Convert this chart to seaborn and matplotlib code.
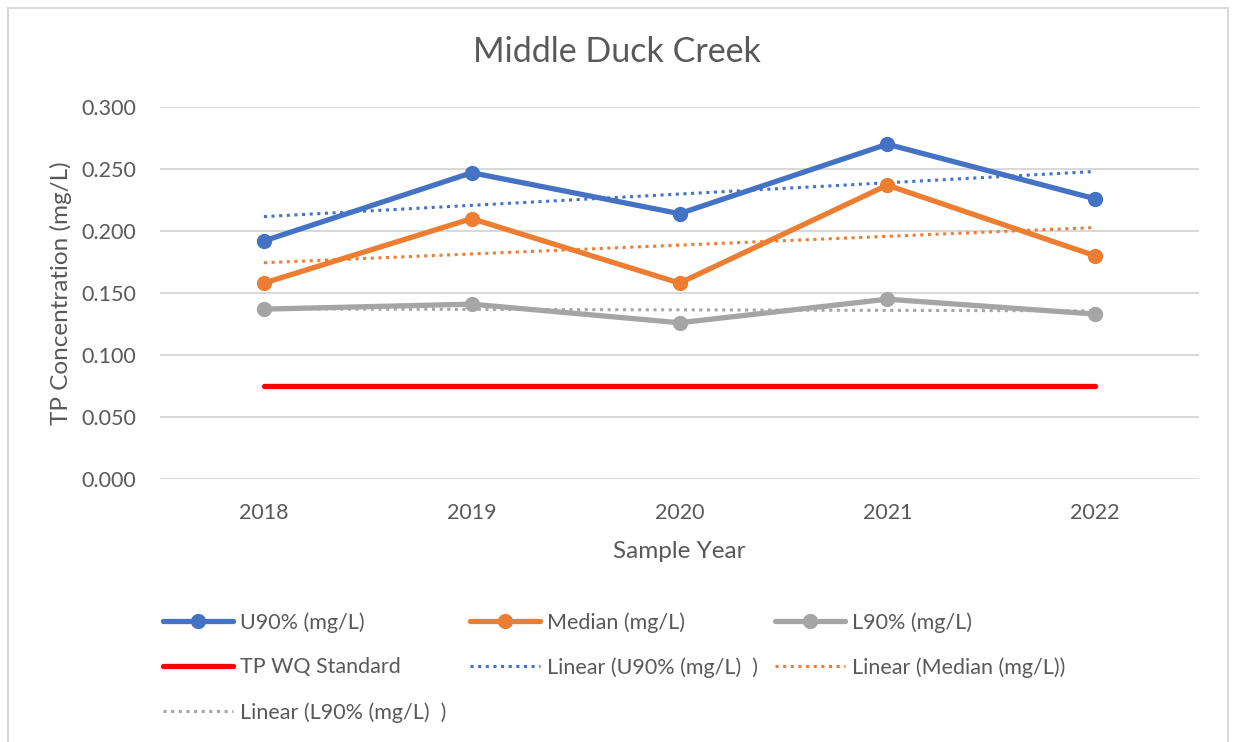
import numpy as np
import pandas as pd
import seaborn as sns
import matplotlib.pyplot as plt
from matplotlib.lines import Line2D
from matplotlib.patches import Rectangle

years = [2018, 2019, 2020, 2021, 2022]
u90 = [0.192, 0.247, 0.214, 0.270, 0.226]
median = [0.158, 0.210, 0.158, 0.237, 0.180]
l90 = [0.137, 0.141, 0.126, 0.145, 0.133]
tp_standard = [0.075, 0.075, 0.075, 0.075, 0.075]

blue = "#4472C4"
orange = "#ED7D31"
grey = "#A5A5A5"
red = "#FF0000"
text_col = "#595959"

sns.set_theme(style="white")
plt.rcParams['font.family'] = ['Lato', 'DejaVu Sans']

df = pd.DataFrame({"year": years, "u90": u90, "median": median,
                   "l90": l90, "std": tp_standard})

W, H = 1233, 742
fig = plt.figure(figsize=(W / 100, H / 100), dpi=100)
ax = fig.add_axes([160 / W, 1 - 479 / H, (1199 - 160) / W, (479 - 107) / H])

# trendlines (linear fits)
for col, c in [("u90", blue), ("median", orange), ("l90", grey)]:
    sns.regplot(data=df, x="year", y=col, ax=ax, scatter=False, ci=None,
                color=c, line_kws=dict(linestyle=(0, (1, 1.5)), lw=2.2, zorder=3))

# main series
sns.lineplot(data=df, x="year", y="std", ax=ax, color=red, lw=3.8, zorder=2)
for col, c in [("u90", blue), ("median", orange), ("l90", grey)]:
    sns.lineplot(data=df, x="year", y=col, ax=ax, color=c, lw=3.8,
                 marker="o", markersize=11, markeredgewidth=0, zorder=4)

ax.set_xlim(2017.5, 2022.5)
ax.set_ylim(0, 0.3)
ax.set_xticks(years)
ax.set_xticklabels([str(y) for y in years])
yt = np.arange(0, 0.301, 0.05)
ax.set_yticks(yt)
ax.set_yticklabels([f"{v:.3f}" for v in yt])
ax.tick_params(axis="both", length=0, labelsize=15.5, labelcolor=text_col)
ax.tick_params(axis="x", pad=17)
ax.tick_params(axis="y", pad=17)
ax.grid(axis="y", color="#D9D9D9", lw=1.5)
ax.set_axisbelow(True)
for s in ax.spines.values():
    s.set_visible(False)

ax.set_xlabel("Sample Year", fontsize=17.5, color=text_col, labelpad=13)
ax.set_ylabel("TP Concentration (mg/L)", fontsize=17.5, color=text_col, labelpad=7)
fig.text(0.5, 1 - 52 / H, "Middle Duck Creek", ha="center", va="center",
         fontsize=24.5, color=text_col)

# legend: three fixed-width columns like the Excel legend
def series_handle(c):
    return Line2D([], [], color=c, lw=3.8, marker="o", markersize=11, markeredgewidth=0)

def trend_handle(c):
    return Line2D([], [], color=c, lw=2.2, linestyle=(0, (1, 1.5)))

columns = [
    ([series_handle(blue), Line2D([], [], color=red, lw=3.8), trend_handle(grey)],
     ["U90% (mg/L)", "TP WQ Standard", "Linear (L90% (mg/L)  )"], 163),
    ([series_handle(orange), trend_handle(blue)],
     ["Median (mg/L)", "Linear (U90% (mg/L)  )"], 470),
    ([series_handle(grey), trend_handle(orange)],
     ["L90% (mg/L)", "Linear (Median (mg/L))"], 775),
]
for handles, labels, x0 in columns:
    leg = fig.legend(handles, labels, loc="upper left",
                     bbox_to_anchor=(x0 / W, 1 - 612 / H), frameon=False,
                     fontsize=15.5, handlelength=3.25, handletextpad=0.33,
                     labelspacing=1.15, borderaxespad=0, borderpad=0)
    for t in leg.get_texts():
        t.set_color(text_col)

fig.patches.append(Rectangle((8 / W, -0.01), 1220 / W, 1 - 8 / H + 0.01,
                             transform=fig.transFigure, fill=False,
                             edgecolor="#D9D9D9", lw=1.5))

fig.savefig("out.png", dpi=100, facecolor="white")
